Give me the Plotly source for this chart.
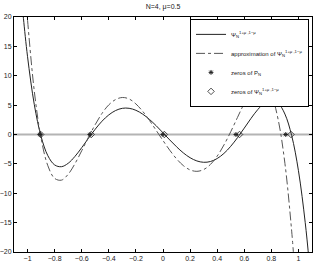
import plotly.graph_objects as go

title_text = "N=4, μ=0.5"

# exact function Psi_N^{1+mu,1-mu} (solid)
x_psi = [-1.04, -1.03, -1.0, -0.95, -0.9, -0.85, -0.8, -0.75, -0.7, -0.65, -0.6, -0.55,
         -0.5, -0.45, -0.4, -0.35, -0.3, -0.25, -0.2, -0.15, -0.1, -0.05, 0.0, 0.05,
         0.1, 0.15, 0.2, 0.25, 0.3, 0.35, 0.4, 0.45, 0.5, 0.55, 0.6, 0.65, 0.7, 0.75,
         0.8, 0.85, 0.9, 0.95, 1.0, 1.05, 1.08]
y_psi = [22.1, 19.7, 13.24, 5.08, -0.35, -3.61, -5.18, -5.48, -4.90, -3.73, -2.24, -0.63,
         0.91, 2.27, 3.34, 4.08, 4.46, 4.46, 4.12, 3.47, 2.57, 1.49, 0.29, -0.93,
         -2.09, -3.13, -3.95, -4.50, -4.73, -4.60, -4.09, -3.22, -2.01, -0.54, 1.09, 2.75, 4.25, 5.38,
         5.85, 5.34, 3.48, -0.19, -6.16, -15.0, -21.9]

# approximation (dash-dot)
x_app = [-1.01, -1.0, -0.95, -0.9, -0.85, -0.8, -0.75, -0.7, -0.65, -0.6, -0.55,
         -0.5, -0.45, -0.4, -0.35, -0.3, -0.25, -0.2, -0.15, -0.1, -0.05, 0.0, 0.05,
         0.1, 0.15, 0.2, 0.25, 0.3, 0.35, 0.4, 0.45, 0.5, 0.55, 0.6, 0.65, 0.7, 0.75,
         0.8, 0.85, 0.9, 0.95, 0.97]
y_app = [22.5, 19.49, 7.34, -0.64, -5.32, -7.47, -7.77, -6.77, -4.97, -2.76, -0.45,
         1.70, 3.60, 5.05, 5.95, 6.30, 6.05, 5.20, 3.95, 2.40, 0.69, -1.03, -2.68,
         -4.14, -5.29, -6.03, -6.27, -5.97, -5.10, -3.68, -1.78, 0.47, 2.91, 5.30, 7.31, 8.56, 8.57,
         6.79, 2.55, -4.91, -16.45, -22.4]

# zeros
zeros_P = [-0.9062, -0.5385, 0.0, 0.5385, 0.9062]
zeros_Psi = [-0.903, -0.53, 0.01, 0.565, 0.945]

x_ticks = [-1, -0.8, -0.6, -0.4, -0.2, 0, 0.2, 0.4, 0.6, 0.8, 1]
x_ticklabels = ["−1", "−0.8", "−0.6", "−0.4", "−0.2", "0", "0.2", "0.4", "0.6", "0.8", "1"]
y_ticks = [-20, -15, -10, -5, 0, 5, 10, 15, 20]
y_ticklabels = ["−20", "−15", "−10", "−5", "0", "5", "10", "15", "20"]
x_range = [-1.1, 1.1]
y_range = [-20, 20]

psi_name = "Ψ<sub>N</sub><sup>1+μ ,1−μ</sup>"

fig = go.Figure()
fig.add_trace(go.Scatter(x=x_range, y=[0, 0], mode="lines",
                         line=dict(color="#b4b4b4", width=2), showlegend=False,
                         hoverinfo="skip"))
fig.add_trace(go.Scatter(x=x_psi, y=y_psi, mode="lines", line_shape="spline",
                         line=dict(color="#222222", width=1), name=psi_name))
fig.add_trace(go.Scatter(x=x_app, y=y_app, mode="lines", line_shape="spline",
                         line=dict(color="#555555", width=1, dash="dashdot"),
                         name="approximation of " + psi_name))
fig.add_trace(go.Scatter(x=zeros_P, y=[0] * len(zeros_P), mode="markers",
                         marker=dict(symbol="asterisk-open", size=4, color="#222222",
                                     line=dict(width=1, color="#222222")),
                         name="zeros of P<sub>N</sub>"))
fig.add_trace(go.Scatter(x=zeros_Psi, y=[0] * len(zeros_Psi), mode="markers",
                         marker=dict(symbol="diamond-open", size=5, color="#222222",
                                     line=dict(width=0.8, color="#222222")),
                         name="zeros of " + psi_name))

axis_common = dict(showline=True, linecolor="black", linewidth=1, mirror="ticks",
                   ticks="inside", ticklen=3, tickcolor="black", showgrid=False,
                   zeroline=False, automargin=False,
                   tickfont=dict(size=7, color="#222222", family="Liberation Sans, Arial"))
fig.update_xaxes(range=x_range, tickvals=x_ticks, ticktext=x_ticklabels, **axis_common)
fig.update_yaxes(range=y_range, tickvals=y_ticks, ticktext=y_ticklabels, **axis_common)

fig.update_layout(
    width=316, height=262,
    margin=dict(l=14, r=4, t=17, b=10, autoexpand=False),
    paper_bgcolor="white", plot_bgcolor="white",
    title=dict(text=title_text, x=0.516, xanchor="center", y=0.985, yanchor="top",
               font=dict(size=7, color="#222222", family="Liberation Sans, Arial")),
    legend=dict(x=0.99, y=0.992, xanchor="right", yanchor="top",
                bordercolor="black", borderwidth=1, bgcolor="white",
                font=dict(size=6, color="#222222", family="Liberation Sans, Arial"),
                tracegroupgap=0, itemwidth=30),
    showlegend=True,
)

fig.write_html("out.html", config={"displayModeBar": False},
               post_script="document.body.style.margin='0';document.body.style.padding='0';")
